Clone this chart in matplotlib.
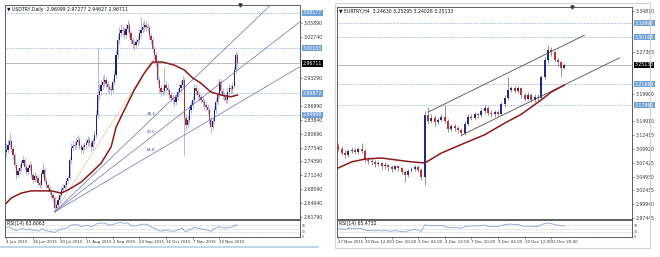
import matplotlib
matplotlib.use('Agg')
import matplotlib.pyplot as plt
import numpy as np
from matplotlib.patches import Rectangle
from matplotlib.lines import Line2D

# ---------------- USDTRY, Daily ----------------
usd_title = "USDTRY,Daily  2.96099 2.97277 2.94627 2.96711"
usd_first_open = 2.765
usd_close = [2.770, 2.782, 2.790, 2.772, 2.759, 2.735, 2.713, 2.722, 2.729, 2.740,
             2.747, 2.731, 2.720, 2.728, 2.736, 2.712, 2.702, 2.711, 2.706, 2.695,
             2.690, 2.715, 2.725, 2.700, 2.690, 2.683, 2.674, 2.668, 2.661, 2.638,
             2.645, 2.656, 2.668, 2.679, 2.684, 2.690, 2.700, 2.706, 2.747, 2.775,
             2.780, 2.781, 2.788, 2.793, 2.780, 2.770, 2.776, 2.781, 2.786, 2.793,
             2.785, 2.777, 2.790, 2.804, 2.850, 2.895, 2.905, 2.918, 2.925, 2.929,
             2.920, 2.913, 2.908, 2.906, 2.925, 2.941, 2.986, 3.020, 3.035, 3.043,
             3.040, 3.032, 3.045, 3.054, 3.035, 3.020, 3.012, 3.009, 3.015, 3.020,
             3.035, 3.043, 3.050, 3.054, 3.050, 3.048, 3.030, 3.020, 3.000, 2.986,
             2.970, 2.929, 2.910, 2.902, 2.905, 2.918, 2.912, 2.906, 2.895, 2.888,
             2.884, 2.879, 2.890, 2.902, 2.910, 2.918, 2.929, 2.843, 2.827, 2.838,
             2.861, 2.872, 2.884, 2.911, 2.905, 2.895, 2.890, 2.884, 2.880, 2.872,
             2.868, 2.861, 2.838, 2.822, 2.835, 2.861, 2.880, 2.895, 2.925, 2.905,
             2.895, 2.890, 2.884, 2.902, 2.911, 2.908, 2.916, 2.952, 2.986, 2.967]
usd_high = [2.785, 2.795, 2.809, 2.796, 2.779, 2.764, 2.740, 2.730, 2.737, 2.748,
            2.757, 2.752, 2.737, 2.735, 2.744, 2.741, 2.718, 2.719, 2.716, 2.712,
            2.701, 2.722, 2.740, 2.729, 2.706, 2.695, 2.688, 2.680, 2.673, 2.665,
            2.652, 2.662, 2.674, 2.686, 2.692, 2.697, 2.707, 2.713, 2.755, 2.786,
            2.792, 2.790, 2.797, 2.803, 2.799, 2.786, 2.784, 2.789, 2.795, 2.801,
            2.799, 2.790, 2.797, 2.815, 2.862, 3.002, 2.921, 2.930, 2.938, 2.942,
            2.936, 2.926, 2.921, 2.917, 2.934, 2.951, 2.997, 3.031, 3.049, 3.056,
            3.053, 3.049, 3.057, 3.066, 3.060, 3.041, 3.028, 3.020, 3.024, 3.029,
            3.045, 3.073, 3.062, 3.066, 3.063, 3.058, 3.054, 3.037, 3.026, 3.006,
            2.992, 2.975, 2.935, 2.918, 2.914, 2.959, 2.926, 2.919, 2.912, 2.901,
            2.896, 2.891, 2.898, 2.911, 2.919, 2.927, 2.938, 2.934, 2.851, 2.847,
            2.870, 2.882, 2.893, 2.921, 2.918, 2.911, 2.902, 2.897, 2.892, 2.887,
            2.880, 2.875, 2.867, 2.845, 2.842, 2.869, 2.889, 2.904, 2.934, 2.931,
            2.911, 2.902, 2.897, 2.910, 2.920, 2.918, 2.924, 2.962, 2.995, 2.990]
usd_low = [2.755, 2.762, 2.775, 2.765, 2.750, 2.728, 2.705, 2.708, 2.716, 2.722,
           2.735, 2.725, 2.712, 2.714, 2.722, 2.706, 2.695, 2.697, 2.699, 2.688,
           2.683, 2.686, 2.708, 2.694, 2.684, 2.676, 2.668, 2.660, 2.652, 2.629,
           2.632, 2.640, 2.650, 2.662, 2.673, 2.678, 2.684, 2.694, 2.701, 2.741,
           2.768, 2.770, 2.774, 2.781, 2.772, 2.762, 2.764, 2.769, 2.774, 2.779,
           2.778, 2.768, 2.770, 2.784, 2.798, 2.843, 2.884, 2.896, 2.909, 2.914,
           2.910, 2.903, 2.898, 2.895, 2.899, 2.918, 2.934, 2.978, 3.010, 3.026,
           3.030, 3.022, 3.025, 3.038, 3.027, 3.010, 3.002, 2.998, 3.001, 3.007,
           3.013, 3.028, 3.036, 3.041, 3.041, 3.039, 3.022, 3.011, 2.992, 2.977,
           2.961, 2.920, 2.899, 2.892, 2.894, 2.898, 2.902, 2.897, 2.886, 2.879,
           2.874, 2.869, 2.872, 2.883, 2.894, 2.902, 2.910, 2.759, 2.815, 2.819,
           2.832, 2.853, 2.865, 2.877, 2.896, 2.887, 2.881, 2.876, 2.871, 2.864,
           2.859, 2.852, 2.830, 2.809, 2.815, 2.829, 2.854, 2.873, 2.888, 2.897,
           2.887, 2.881, 2.876, 2.877, 2.894, 2.900, 2.900, 2.910, 2.945, 2.962]
usd_ma_idx = [0, 3, 9, 15, 27, 33, 37, 45, 51, 57, 63, 66, 71, 77, 83, 88, 94,
              101, 107, 112, 117, 123, 129, 135, 139]
usd_ma = [2.649, 2.661, 2.672, 2.677, 2.677, 2.672, 2.679, 2.697, 2.718, 2.740,
          2.777, 2.822, 2.861, 2.907, 2.945, 2.970, 2.970, 2.963, 2.952, 2.934,
          2.922, 2.902, 2.895, 2.891, 2.895]
usd_rsi = [55, 58, 60, 52, 48, 42, 38, 42, 45, 48, 50, 45, 42, 46, 49, 40,
           38, 42, 40, 36, 35, 45, 50, 40, 37, 35, 33, 32, 30, 26,
           32, 38, 42, 46, 48, 50, 53, 55,
           65, 70, 71, 71, 72, 73, 66, 62, 64, 66, 67, 68, 64, 60, 65, 68,
           76, 80, 81, 82, 82, 83, 78, 74, 72, 71, 74, 76, 80, 83,
           84, 84, 83, 80, 82, 83, 74, 68, 65, 64, 66, 68, 72, 74, 75, 76, 74, 73, 65, 60, 55, 52,
           48, 40, 36, 35, 36, 42, 40, 38, 36, 35, 34, 33, 38, 42, 45, 48, 52,
           35, 32, 36, 42, 46, 50, 57, 55, 52, 50, 48, 46, 44, 42, 40, 36, 33, 40,
           48, 53, 57, 62, 57, 55, 53, 52, 56, 58, 57, 59, 66, 72, 64]
usd_rsi_label = "RSI(14) 63.6063"
usd_date_idx = [0, 16, 32, 48, 64, 80, 96, 112, 128]
usd_dates = ["4 Jun 2015", "26 Jun 2015", "20 Jul 2015", "11 Aug 2015", "2 Sep 2015",
             "24 Sep 2015", "16 Oct 2015", "7 Nov 2015", "30 Nov 2015"]
usd_yticks = [2.61790, 2.64940, 2.68090, 2.71240, 2.74390, 2.77540, 2.80690, 2.83840,
              2.86990, 2.90140, 2.93290, 2.96440, 2.99590, 3.02740, 3.05890, 3.09040]
usd_levels = [3.08177, 3.00183, 2.89872, 2.84968]
usd_last = 2.96711
usd_fan_p1 = (29, 2.629)
usd_fan_p2 = (88, 2.975)
fan_ratios = [38.2, 50.0, 61.8]

# ---------------- EURTRY, H4 ----------------
eur_title = "EURTRY,H4  3.24630 3.25295 3.24026 3.25133"
eur_first_open = 3.105
eur_close = [3.100, 3.092, 3.088, 3.095, 3.098, 3.094, 3.099, 3.096, 3.080, 3.078,
             3.076, 3.072, 3.074, 3.068, 3.071, 3.066, 3.064, 3.068, 3.065, 3.058,
             3.052, 3.060, 3.063, 3.067, 3.062, 3.048, 3.160, 3.150, 3.155, 3.148,
             3.152, 3.157, 3.150, 3.135, 3.140, 3.137, 3.133, 3.128, 3.145, 3.158,
             3.156, 3.162, 3.160, 3.168, 3.174, 3.165, 3.162, 3.166, 3.163, 3.180,
             3.192, 3.206, 3.210, 3.205, 3.209, 3.196, 3.190, 3.197, 3.188, 3.194,
             3.191, 3.229, 3.260, 3.278, 3.274, 3.260, 3.256, 3.246, 3.251]
eur_high = [3.110, 3.104, 3.097, 3.099, 3.102, 3.101, 3.103, 3.111, 3.099, 3.084,
            3.081, 3.079, 3.078, 3.076, 3.075, 3.073, 3.070, 3.071, 3.071, 3.067,
            3.061, 3.064, 3.067, 3.070, 3.071, 3.065, 3.168, 3.175, 3.162, 3.160,
            3.158, 3.163, 3.179, 3.153, 3.144, 3.145, 3.141, 3.137, 3.149, 3.162,
            3.163, 3.166, 3.165, 3.173, 3.178, 3.177, 3.169, 3.170, 3.170, 3.184,
            3.196, 3.229, 3.214, 3.213, 3.214, 3.211, 3.200, 3.202, 3.200, 3.198,
            3.199, 3.233, 3.265, 3.287, 3.283, 3.277, 3.264, 3.258, 3.254]
eur_low = [3.095, 3.088, 3.083, 3.085, 3.092, 3.090, 3.091, 3.092, 3.076, 3.073,
           3.070, 3.066, 3.068, 3.062, 3.064, 3.060, 3.058, 3.061, 3.059, 3.054,
           3.040, 3.049, 3.057, 3.060, 3.058, 3.043, 3.034, 3.145, 3.146, 3.141,
           3.144, 3.149, 3.146, 3.130, 3.131, 3.132, 3.128, 3.123, 3.125, 3.141,
           3.152, 3.153, 3.155, 3.157, 3.164, 3.161, 3.158, 3.158, 3.159, 3.160,
           3.176, 3.188, 3.202, 3.200, 3.201, 3.192, 3.186, 3.187, 3.184, 3.185,
           3.186, 3.189, 3.225, 3.255, 3.268, 3.256, 3.250, 3.230, 3.243]
eur_ma_idx = [0, 4, 8, 13, 18, 22, 26, 31, 38, 44, 50, 55, 61, 64, 68]
eur_ma = [3.065, 3.076, 3.081, 3.083, 3.079, 3.076, 3.074, 3.092, 3.110, 3.125,
          3.146, 3.162, 3.188, 3.202, 3.215]
eur_rsi = [50, 47, 45, 50, 52, 49, 52, 50, 40, 39, 38, 36, 38, 35, 38, 35, 34, 37, 35, 32,
           30, 38, 41, 44, 40, 33,
           72, 68, 69, 66, 67, 68, 64, 55, 57, 56, 54, 52, 60, 65, 64,
           66, 65, 68, 70, 63, 61, 63, 61, 68, 72, 75, 76, 73, 75, 66,
           62, 65, 60, 63, 61, 73, 79, 82, 80, 73, 70, 66, 65]
eur_rsi_label = "RSI(14) 65.4732"
eur_date_idx = [0, 8, 16, 24, 32, 40, 48, 56, 64]
eur_dates = ["27 Nov 2015", "30 Nov 12:00", "1 Dec 20:00", "3 Dec 04:00", "4 Dec 12:00",
             "7 Dec 20:00", "9 Dec 04:00", "10 Dec 12:00", "11 Dec 20:00"]
eur_yticks = [2.97445, 2.99940, 3.02435, 3.04930, 3.07425, 3.09920, 3.12415, 3.14910,
              3.17405, 3.19900, 3.22395, 3.24890, 3.27385, 3.29880, 3.32375, 3.34870]
eur_levels = [3.32697, 3.30168, 3.21668, 3.17862]
eur_last = 3.25133
eur_channel_upper = [(27, 3.166), (74, 3.305)]
eur_channel_lower = [(37, 3.124), (84.5, 3.264)]

rsi_ticks = [0, 30, 70]
FS = 3.3
W, H = 660, 257


def candles(ax, first_open, c, h, l, width, wick, up, down):
    c = np.array(c); h = np.array(h); l = np.array(l)
    o = np.concatenate([[first_open], c[:-1]])
    x = np.arange(len(c))
    ax.vlines(x, l, h, color=wick, lw=0.5, zorder=2)
    bottom = np.minimum(o, c)
    height = np.maximum(np.abs(c - o), 0.0012)
    cols = [up if cc >= oo else down for oo, cc in zip(o, c)]
    ax.bar(x, height, width=width, bottom=bottom, color=cols, linewidth=0, zorder=3)


def price_box(ax, y, text, fc, tc='white'):
    ax.annotate(text, xy=(1.0, y), xycoords=('axes fraction', 'data'),
                xytext=(2, 0), textcoords='offset points', fontsize=FS, color=tc,
                va='center', ha='left', annotation_clip=False, zorder=10,
                bbox=dict(boxstyle='square,pad=0.15', fc=fc, ec='none'))


def setup_main(ax, xlim, ylim, yticks, title, boxed, px_height):
    ax.set_xlim(*xlim)
    ax.set_ylim(*ylim)
    # tick labels hidden behind the coloured price boxes are left out
    px_per_unit = px_height / (ylim[1] - ylim[0])
    shown = [v for v in yticks if min(abs(v - b) for b in boxed) * px_per_unit > 4.5]
    ax.yaxis.tick_right()
    ax.set_yticks(shown)
    ax.set_yticklabels(["%.5f" % v for v in shown])
    ax.tick_params(axis='y', labelsize=FS, length=1.5, width=0.4, pad=1, colors='#333333')
    ax.tick_params(axis='x', bottom=False, labelbottom=False)
    for s in ax.spines.values():
        s.set_color('#444444')
        s.set_linewidth(0.6)
    ax.text(0.008, 0.992, "\u25bc " + title, transform=ax.transAxes, fontsize=FS,
            va='top', ha='left', color='#111111')
    ax.plot([0.797], [1.0], marker='v', ms=2.2, color='#333333',
            transform=ax.transAxes, clip_on=False)


def setup_rsi(ax, rsi, label, date_idx, dates):
    ax.plot(np.arange(len(rsi)), rsi, color='#8da2d8', lw=0.6)
    ax.set_ylim(0, 100)
    for lv in [30, 50, 70]:
        ax.axhline(lv, color='#9a9a9a', lw=0.4, ls=(0, (1, 1.5)))
    ax.yaxis.tick_right()
    ax.set_yticks(rsi_ticks)
    ax.set_yticklabels([str(v) for v in rsi_ticks])
    ax.tick_params(axis='y', labelsize=2.2, length=1, width=0.3, pad=0.5, colors='#333333')
    ax.set_xticks(date_idx)
    ax.set_xticklabels(dates)
    for t in ax.get_xticklabels():
        t.set_ha('left')
    ax.tick_params(axis='x', labelsize=2.9, length=1.5, width=0.4, pad=1, colors='#333333')
    for s in ax.spines.values():
        s.set_color('#444444')
        s.set_linewidth(0.6)
    ax.text(0.008, 0.93, label, transform=ax.transAxes, fontsize=FS, va='top',
            ha='left', color='#111111')


fig = plt.figure(figsize=(W / 100, H / 100), dpi=100)
fig.patch.set_facecolor('white')

axL = fig.add_axes([5 / W, 1 - 219 / H, 295 / W, 214 / H])
axLr = fig.add_axes([5 / W, 1 - 237 / H, 295 / W, 17 / H])
axR = fig.add_axes([337 / W, 1 - 219 / H, 295 / W, 212 / H])
axRr = fig.add_axes([337 / W, 1 - 237 / H, 295 / W, 17 / H])

# ---- left chart ----
setup_main(axL, (-0.8, 176.6), (2.6130, 3.0998), usd_yticks, usd_title,
           usd_levels + [usd_last], 214)
for lv in usd_levels:
    axL.axhline(lv, color='#5b7fc0', lw=0.5, ls=(0, (1, 1.5)), zorder=1)
    price_box(axL, lv, "%.5f" % lv, '#6f9fd8')
axL.axhline(usd_last, color='#b0b0b0', lw=0.6, zorder=1)
price_box(axL, usd_last, "%.5f" % usd_last, 'black')

# fibonacci fan
x1, p1 = usd_fan_p1
x2, p2 = usd_fan_p2
axL.plot([x1, x2], [p1, p2], color='#e89a40', lw=0.6, ls=(0, (1.5, 1.5)), zorder=4)
for r in fan_ratios:
    py = p2 - r / 100 * (p2 - p1)
    slope = (py - p1) / (x2 - x1)
    xs = np.array([x1, 200])
    axL.plot(xs, p1 + slope * (xs - x1), color='#6d6db0', lw=0.5, zorder=4)
    axL.text(x2 - 1, py + 0.004, "%.1f" % r, fontsize=2.8, color='#3a3a8a',
             ha='center', va='bottom', zorder=5)

candles(axL, usd_first_open, usd_close, usd_high, usd_low, 0.75,
        '#9a9ad2', '#1e1e72', '#a83232')
axL.plot(usd_ma_idx, usd_ma, color='#8b1a1a', lw=1.1, zorder=6)

axLr.set_xlim(-0.8, 176.6)
setup_rsi(axLr, usd_rsi, usd_rsi_label, usd_date_idx, usd_dates)

# ---- right chart ----
setup_main(axR, (-0.4, 88.3), (2.9727, 3.3560), eur_yticks, eur_title,
           eur_levels + [eur_last], 212)
for lv in eur_levels:
    axR.axhline(lv, color='#5b7fc0', lw=0.5, ls=(0, (1, 1.5)), zorder=1)
    price_box(axR, lv, "%.5f" % lv, '#6f9fd8')
axR.axhline(eur_last, color='#b0b0b0', lw=0.6, zorder=1)
price_box(axR, eur_last, "%.5f" % eur_last, 'black')

for seg in (eur_channel_upper, eur_channel_lower):
    axR.plot([seg[0][0], seg[1][0]], [seg[0][1], seg[1][1]], color='#505050',
             lw=0.6, zorder=4)

candles(axR, eur_first_open, eur_close, eur_high, eur_low, 0.6,
        '#6a6a6a', '#1f2a8a', '#c03030')
axR.plot(eur_ma_idx, eur_ma, color='#8b1a1a', lw=1.1, zorder=6)

axRr.set_xlim(-0.4, 88.3)
setup_rsi(axRr, eur_rsi, eur_rsi_label, eur_date_idx, eur_dates)

# frames around the two terminal windows
fig.add_artist(Line2D([0, 318 / W], [1 - 247 / H, 1 - 247 / H], color='#b4cde8', lw=1.2))
fig.add_artist(Rectangle((335 / W, 1 - 248 / H), 315 / W, 245 / H, fill=False,
                         ec='#d0d4da', lw=0.8))

fig.savefig('out.png', dpi=100, facecolor='white')
